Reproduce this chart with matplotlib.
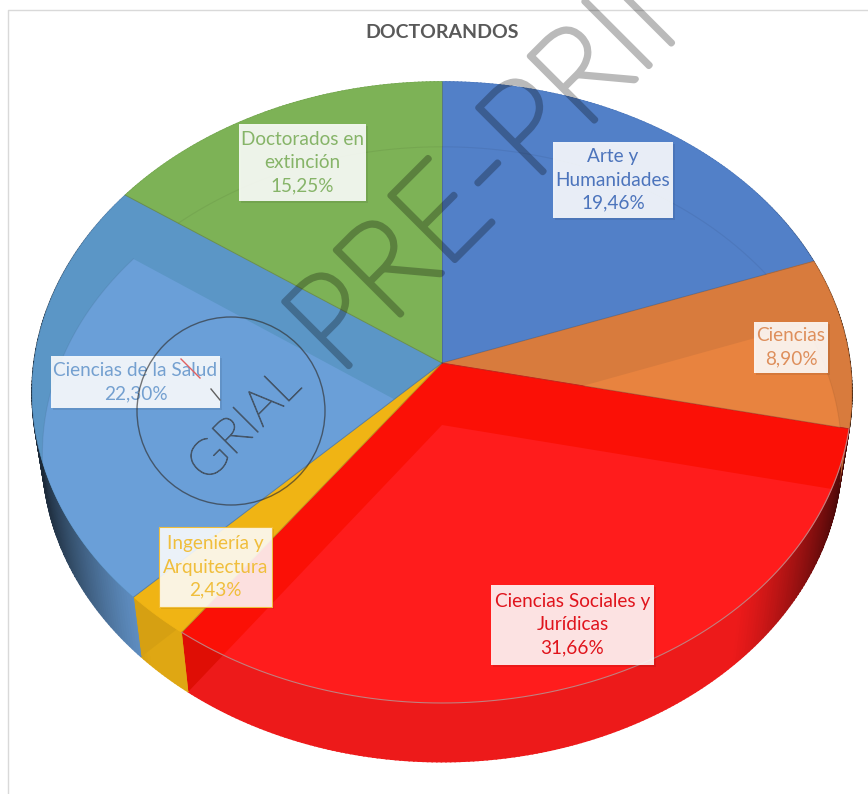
import numpy as np
import matplotlib
matplotlib.use("Agg")
import matplotlib.pyplot as plt
import matplotlib.patheffects as pe
from matplotlib.patches import Polygon, Rectangle, Circle

plt.rcParams['font.family'] = ['Lato', 'DejaVu Sans']

categories = ["Arte y\nHumanidades", "Ciencias", "Ciencias Sociales y\nJurídicas",
              "Ingeniería y\nArquitectura", "Ciencias de la Salud", "Doctorados en\nextinción"]
values = [19.46, 8.90, 31.66, 2.43, 22.30, 15.25]

top_colors = ["#5280C8", "#D87B3D", "#FB1006", "#F0B414", "#5B96C6", "#7DB256"]
floor_colors = ["#5280C8", "#E8833F", "#FF1C1C", "#F0B414", "#6A9FD8", "#7DB256"]
text_colors = ["#4C74BC", "#DE8F5C", "#E0141C", "#F0BE3C", "#74A0D0", "#86B468"]
# label boxes in pixels: left, top, right, bottom
label_boxes = [(553, 142, 673, 218), (754, 322, 828, 373), (491, 585, 654, 665),
               (159, 527, 272, 607), (51, 356, 220, 408), (239, 124, 366, 201)]

cx, cy = 442, 363
rx, ry, k = 408, 307.7, 0.095


class OutlineOnly(pe.Stroke):
    # stroke the glyphs without filling them, so alpha does not double up
    def draw_path(self, renderer, gc, tpath, affine, rgbFace=None):
        super().draw_path(renderer, gc, tpath, affine, None)


def project(theta):
    # unit disc seen in perspective, theta clockwise from the top
    w = 1 + k * np.cos(theta)
    return cx + rx * np.sin(theta) / w, cy - ry * np.cos(theta) / w


def down(x, y):
    # same point on the underside of the pie
    return cx + (np.asarray(x) - cx) * 0.975, np.asarray(y) + 62 - 0.01 * (np.asarray(y) - cy)


def shade(color, x):
    t = abs(x - cx) / 410
    f = 0.93 if t < 0.72 else 0.93 - ((t - 0.72) / 0.28) ** 1.3 * 0.68
    return tuple(c * f for c in matplotlib.colors.to_rgb(color))


fig = plt.figure(figsize=(8.68, 7.94), dpi=100)
ax = fig.add_axes([0, 0, 1, 1])
ax.set_xlim(0, 868)
ax.set_ylim(794, 0)
ax.axis("off")

# chart frame
ax.plot([868, 8, 8], [10, 10, 794], color="#D9D9D9", lw=1)

edges = np.cumsum([0] + values) / sum(values) * 2 * np.pi

# walls
for i in range(len(values)):
    th = np.linspace(edges[i], edges[i + 1], int(values[i] * 6) + 2)
    x, y = project(th)
    xd, yd = down(x, y)
    for j in range(len(th) - 1):
        c = shade(floor_colors[i], x[j])
        ax.fill([x[j], x[j + 1], xd[j + 1], xd[j]], [y[j], y[j + 1], yd[j + 1], yd[j]],
                fc=c, ec=c, lw=1.2, zorder=2)
    wall = Polygon(np.r_[np.c_[x, y], np.c_[xd, yd][::-1]], closed=True, fc="none", ec="none", zorder=2)
    ax.add_patch(wall)
    # the darker top colour reaches over the wall next to the end of the slice
    ax0, ay0 = project(edges[i + 1])
    bx0, by0 = down(ax0, ay0)
    fx, fy = down(cx, cy)
    dark = tuple(c * 0.89 for c in matplotlib.colors.to_rgb(top_colors[i]))
    tri = Polygon([(ax0, ay0), (bx0, by0), (fx, fy)], closed=True, fc=dark, ec="none", zorder=3)
    ax.add_patch(tri)
    tri.set_clip_path(wall)

# top faces with the lighter floor showing through
for i in range(len(values)):
    th = np.linspace(edges[i], edges[i + 1], int(values[i] * 6) + 2)
    x, y = project(th)
    pts = np.r_[[[cx, cy]], np.c_[x, y]]
    top = Polygon(pts, closed=True, fc=top_colors[i], ec=top_colors[i], lw=0.5, zorder=4)
    ax.add_patch(top)
    xd, yd = down(pts[:, 0], pts[:, 1])
    floor = Polygon(np.c_[xd, yd], closed=True, fc=floor_colors[i], ec="none", zorder=5)
    ax.add_patch(floor)
    floor.set_clip_path(top)
    rim, = ax.plot(xd[1:], yd[1:], color="black", alpha=0.06, lw=0.8, zorder=5)
    rim.set_clip_path(top)

# slice borders
for e in edges[:-1]:
    x, y = project(e)
    ax.plot([cx, x], [cy, y], color="#404040", alpha=0.3, lw=0.7, zorder=6)
th = np.linspace(edges[2], edges[3], 200)
x, y = project(th)
ax.plot(x, y, color="#C08080", lw=0.8, zorder=6)

# data labels
for i in range(len(values)):
    l, t, r, b = label_boxes[i]
    ax.add_patch(Rectangle((l + 2, t + 2), r - l, b - t, fc="black", alpha=0.08, ec="none", zorder=7))
    edge = text_colors[i] if i == 3 else "none"
    ax.add_patch(Rectangle((l, t), r - l, b - t, fc=(1, 1, 1, 0.88), ec=edge, lw=0.8, zorder=8))
    txt = categories[i] + "\n" + f"{values[i]:.2f}".replace(".", ",") + "%"
    ax.text((l + r) / 2, (t + b) / 2, txt, color=text_colors[i], fontsize=13.7, ha="center",
            va="center", linespacing=1.45, zorder=9)

ax.text(442, 33, "DOCTORANDOS", color="#595959", fontsize=14, fontweight="bold",
        ha="center", va="center", zorder=9)

# watermark
pp = ax.text(338, 377, "PRE-PRINT", fontweight="light", fontsize=94, rotation=45,
             rotation_mode="anchor", ha="left", va="baseline", color="black", zorder=10)
pp.set_path_effects([OutlineOnly(linewidth=4.2, foreground="black", alpha=0.27)])
ax.add_patch(Circle((231, 411), 94, fc="none", ec="#303030", alpha=0.65, lw=1, zorder=10))
grial = ax.text(245, 426, "GRIAL", fontweight="light", fontsize=36, rotation=45,
                rotation_mode="anchor", ha="center", va="center", color="#303030", zorder=10)
grial.set_path_effects([OutlineOnly(linewidth=0.7, foreground="#303030", alpha=0.65)])
ax.plot([181, 200], [359, 378], color="#E06060", lw=1, zorder=10)
ax.plot([211, 220], [389, 400], color="#606060", lw=1, zorder=10)

fig.savefig("out.png", dpi=100)
